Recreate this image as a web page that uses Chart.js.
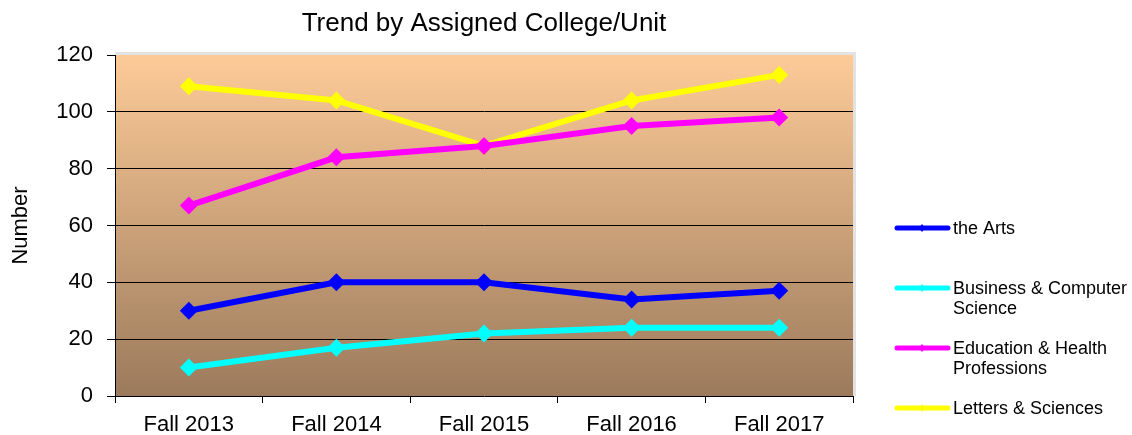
<!DOCTYPE html>
<html>
<head>
<meta charset="utf-8">
<script src="https://cdn.jsdelivr.net/npm/chart.js@4/dist/chart.umd.min.js"></script>
<style>
  html, body { margin: 0; padding: 0; background: #fff; }
  #wrap { width: 1132px; height: 435px; position: relative; }
</style>
</head>
<body>
<div id="wrap"><canvas id="grafico"></canvas></div>
<script>
// dados do grafico
var anos = ['Fall 2013', 'Fall 2014', 'Fall 2015', 'Fall 2016', 'Fall 2017']
var arts = [30, 40, 40, 34, 37]
var business = [10, 17, 22, 24, 24]
var education = [67, 84, 88, 95, 98]
var letters = [109, 104, 88, 104, 113]
var nomes = ['the Arts', ['Business & Computer', 'Science'], ['Education & Health', 'Professions'], 'Letters & Sciences']
var cores = ['#0000FF', '#00FFFF', '#FF00FF', '#FFFF00']
var legendaY = [229, 289, 349, 409]

var series = [arts, business, education, letters]
var fonte = 'Arial, "Liberation Sans", sans-serif'

Chart.defaults.font.family = fonte
Chart.defaults.color = '#000'

// fundo com gradiente, titulo e legenda
var fundo = {
    id: 'fundo',
    beforeDraw(chart) {
        var ctx = chart.ctx, a = chart.chartArea
        var g = ctx.createLinearGradient(0, a.top, 0, a.bottom)
        g.addColorStop(0, '#FDCB98')
        g.addColorStop(1, '#9B7A5C')
        ctx.save()
        ctx.fillStyle = '#E2E2E2'
        ctx.fillRect(a.left, a.top - 3, a.right - a.left + 3, a.bottom - a.top + 3)
        ctx.fillStyle = g
        ctx.fillRect(a.left, a.top, a.right - a.left, a.bottom - a.top)
        ctx.fillStyle = '#000'
        ctx.font = '26px ' + fonte
        ctx.textAlign = 'center'
        ctx.textBaseline = 'middle'
        ctx.fillText('Trend by Assigned College/Unit', (a.left + a.right) / 2, 24)
        ctx.restore()
    },
    afterDraw(chart) {
        var ctx = chart.ctx
        ctx.save()
        chart.data.datasets.forEach(function (ds, i) {
            var y = legendaY[i]
            ctx.strokeStyle = ds.borderColor
            ctx.lineWidth = 5
            ctx.lineCap = 'round'
            ctx.beginPath()
            ctx.moveTo(897, y - 1)
            ctx.lineTo(948, y - 1)
            ctx.stroke()
            ctx.fillStyle = ds.borderColor
            ctx.beginPath()
            ctx.moveTo(922, y - 5)
            ctx.lineTo(925, y - 1)
            ctx.lineTo(922, y + 3)
            ctx.lineTo(919, y - 1)
            ctx.closePath()
            ctx.fill()
            ctx.fillStyle = '#000'
            ctx.font = '18px ' + fonte
            ctx.textAlign = 'left'
            ctx.textBaseline = 'middle'
            var linhas = Array.isArray(ds.label) ? ds.label : [ds.label]
            linhas.forEach(function (t, k) {
                ctx.fillText(t, 953, y + k * 20)
            })
        })
        ctx.restore()
    }
}

var datasets = series.map(function (d, i) {
    return {
        label: nomes[i],
        data: d,
        borderColor: cores[i],
        backgroundColor: cores[i],
        borderWidth: 6,
        pointStyle: 'rectRot',
        pointRadius: 9,
        pointHoverRadius: 9,
        pointBorderWidth: 0,
        tension: 0
    }
})

new Chart(document.querySelector('#grafico'), {
    type: 'line',
    data: { labels: anos, datasets },
    plugins: [fundo],
    options: {
        responsive: true,
        maintainAspectRatio: false,
        animation: false,
        events: [],
        layout: { padding: { top: 55, right: 279, left: 0, bottom: 0 } },
        plugins: {
            legend: { display: false },
            title: { display: false },
            tooltip: { enabled: false }
        },
        scales: {
            x: {
                offset: true,
                afterFit: function (s) { s.height = 39 },
                grid: { offset: true, drawOnChartArea: false, tickLength: 7, color: '#000' },
                border: { color: '#000', width: 1 },
                ticks: { font: { size: 22 }, padding: 9 }
            },
            y: {
                min: 0,
                max: 120,
                afterFit: function (s) { s.width = 115 },
                ticks: { stepSize: 20, font: { size: 22 }, padding: 14 },
                grid: {
                    tickLength: 8,
                    color: function (c) { return (c.tick && (c.tick.value === 0 || c.tick.value === 120)) ? 'rgba(0,0,0,0)' : '#000' },
                    tickColor: '#000'
                },
                border: { color: '#000', width: 1 },
                title: { display: true, text: 'Number', font: { size: 22 }, padding: { top: 8, bottom: 4 } }
            }
        }
    }
})
</script>
</body>
</html>
